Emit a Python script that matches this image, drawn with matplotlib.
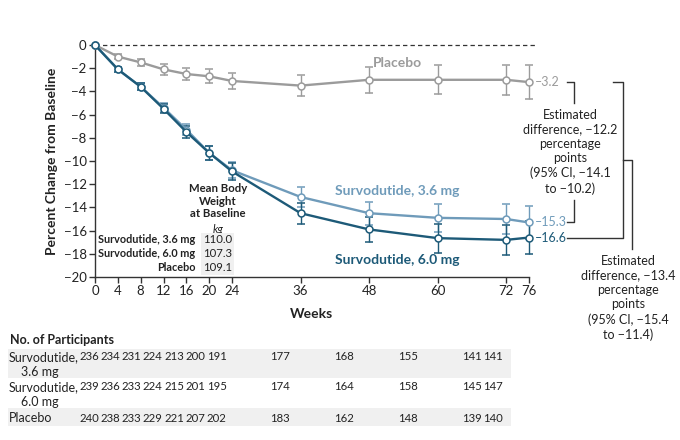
import matplotlib
matplotlib.use('Agg')
import matplotlib.pyplot as plt
from matplotlib.patches import Rectangle

plt.rcParams['font.family'] = ['Lato', 'DejaVu Sans']

weeks = [0, 4, 8, 12, 16, 20, 24, 36, 48, 60, 72, 76]

placebo = [0, -1.0, -1.5, -2.1, -2.5, -2.7, -3.1, -3.5, -3.0, -3.0, -3.0, -3.2]
placebo_err = [0, 0.2, 0.3, 0.45, 0.5, 0.6, 0.7, 0.9, 1.1, 1.25, 1.3, 1.45]

surv36 = [0, -2.1, -3.6, -5.4, -7.3, -9.3, -10.8, -13.1, -14.5, -14.9, -15.0, -15.3]
surv36_err = [0, 0.2, 0.3, 0.4, 0.5, 0.6, 0.7, 0.9, 1.0, 1.2, 1.3, 1.4]

surv60 = [0, -2.1, -3.6, -5.5, -7.5, -9.3, -10.9, -14.5, -15.9, -16.65, -16.8, -16.6]
surv60_err = [0, 0.2, 0.3, 0.4, 0.5, 0.6, 0.7, 0.9, 1.1, 1.25, 1.3, 1.4]

baseline_labels = ['Survodutide, 3.6 mg', 'Survodutide, 6.0 mg', 'Placebo']
baseline_kg = ['110.0', '107.3', '109.1']

n_surv36 = [236, 234, 231, 224, 213, 200, 191, 177, 168, 155, 141, 141]
n_surv60 = [239, 236, 233, 224, 215, 201, 195, 174, 164, 158, 145, 147]
n_placebo = [240, 238, 233, 229, 221, 207, 202, 183, 162, 148, 139, 140]

c_plc = '#9b9b9b'
c_36 = '#6f9bba'
c_60 = '#1d5a78'
c_txt = '#222222'

W, H = 680, 440
fig = plt.figure(figsize=(6.8, 4.4), dpi=100)

# main axes: pixel box 95..529 x 45..277
ax = fig.add_axes([95 / W, 1 - 277 / H, 434 / W, 232 / H])
ax.set_xlim(0, 76)
ax.set_ylim(-20, 0)

ax.plot([0, 77], [0, 0], color='#333333', lw=0.9, ls=(0, (3.5, 2.5)), clip_on=False, zorder=1)

for vals, errs, col in [(placebo, placebo_err, c_plc), (surv36, surv36_err, c_36), (surv60, surv60_err, c_60)]:
    ax.errorbar(weeks, vals, yerr=errs, color=col, lw=1.7, elinewidth=1.0, capsize=3, capthick=1.0,
                marker='o', ms=5, mfc='white', mec=col, mew=1.1, clip_on=False, zorder=3)

ax.spines['top'].set_visible(False)
ax.spines['right'].set_visible(False)
for s in ['left', 'bottom']:
    ax.spines[s].set_color('#333333')
    ax.spines[s].set_linewidth(1.0)
ax.set_xticks(weeks)
ax.set_yticks(range(-20, 1, 2))
ax.set_yticklabels([str(v).replace('-', '\u2212') for v in range(-20, 1, 2)])
ax.tick_params(axis='both', labelsize=9.5, length=4, width=1.0, color='#333333', labelcolor=c_txt, pad=2)
ax.set_ylabel('Percent Change from Baseline', fontsize=10, fontweight='bold', color=c_txt, labelpad=4)
ax.set_xlabel('Weeks', fontsize=10, fontweight='bold', color=c_txt, labelpad=8)

# series labels
ax.text(53, -1.55, 'Placebo', color=c_plc, fontsize=10, fontweight='bold', ha='center', va='center')
ax.text(53, -12.6, 'Survodutide, 3.6 mg', color=c_36, fontsize=10, fontweight='bold', ha='center', va='center')
ax.text(53, -18.5, 'Survodutide, 6.0 mg', color=c_60, fontsize=10, fontweight='bold', ha='center', va='center')

# end values
for vals, col in [(placebo, c_plc), (surv36, c_36), (surv60, c_60)]:
    ax.text(77.0, vals[-1], f'{vals[-1]:.1f}'.replace('-', '\u2013'), color=col, fontsize=9,
            ha='left', va='center', clip_on=False)

# brackets
lk = dict(color='#333333', lw=1.0, clip_on=False)
xe = 82.6
ax.plot([xe, 83.9, 83.9], [placebo[-1], placebo[-1], -5.0], **lk)
ax.plot([83.9, 83.9, xe], [-13.4, surv36[-1], surv36[-1]], **lk)
ax.plot([90.7, 92.5, 92.5, xe], [placebo[-1], placebo[-1], surv60[-1], surv60[-1]], **lk)
mid = (placebo[-1] + surv60[-1]) / 2
ax.plot([92.5, 94.0, 94.0], [mid, mid, -17.6], **lk)

ax.text(83.2, -5.5, 'Estimated\ndifference, \u221212.2\npercentage\npoints\n(95% CI, \u221214.1\nto \u221210.2)',
        ha='center', va='top', fontsize=9, color=c_txt, linespacing=1.25, clip_on=False)
ax.text(93.4, -18.1, 'Estimated\ndifference, \u221213.4\npercentage\npoints\n(95% CI, \u221215.4\nto \u221211.4)',
        ha='center', va='top', fontsize=9, color=c_txt, linespacing=1.25, clip_on=False)

# baseline weight box
ax.text(21.5, -13.45, 'Mean Body\nWeight\nat Baseline', ha='center', va='center', fontsize=8.2,
        fontweight='bold', color=c_txt, linespacing=1.2)
ax.text(21.5, -15.9, 'kg', ha='center', va='center', fontsize=8.2, style='italic', color=c_txt)
for i, (lab, kg) in enumerate(zip(baseline_labels, baseline_kg)):
    yy = -16.8 - 1.2 * i
    ax.text(17.6, yy, lab, ha='right', va='center', fontsize=7.8, fontweight='bold', color=c_txt)
    ax.text(18.9, yy, kg, ha='left', va='center', fontsize=8.2, color=c_txt,
            bbox=dict(boxstyle='square,pad=0.15', fc='#f0f0f0', ec='none'))

# participants table
ov = fig.add_axes([0, 0, 1, 1])
ov.set_xlim(0, W)
ov.set_ylim(H, 0)
ov.axis('off')
ov.add_patch(Rectangle((8, 349), 503, 29, fc='#f0f0f0', ec='none'))
ov.add_patch(Rectangle((8, 408), 503, 18, fc='#f0f0f0', ec='none'))
ov.text(10, 340, 'No. of Participants', fontsize=9, fontweight='bold', color=c_txt, va='center')
ov.text(9, 357, 'Survodutide,', fontsize=9, color=c_txt, va='center')
ov.text(21, 372, '3.6 mg', fontsize=9, color=c_txt, va='center')
ov.text(9, 387, 'Survodutide,', fontsize=9, color=c_txt, va='center')
ov.text(21, 402, '6.0 mg', fontsize=9, color=c_txt, va='center')
ov.text(9, 418, 'Placebo', fontsize=9, color=c_txt, va='center')

tb = fig.add_axes([89 / W, 0, 404 / W, 1])
tb.set_xlim(0, 76)
tb.set_ylim(H, 0)
tb.axis('off')
for counts, yy in [(n_surv36, 357), (n_surv60, 387), (n_placebo, 418)]:
    for w, n in zip(weeks, counts):
        tb.text(w, yy, str(n), fontsize=8.2, color=c_txt, ha='center', va='center')

fig.savefig('out.png', dpi=100)
